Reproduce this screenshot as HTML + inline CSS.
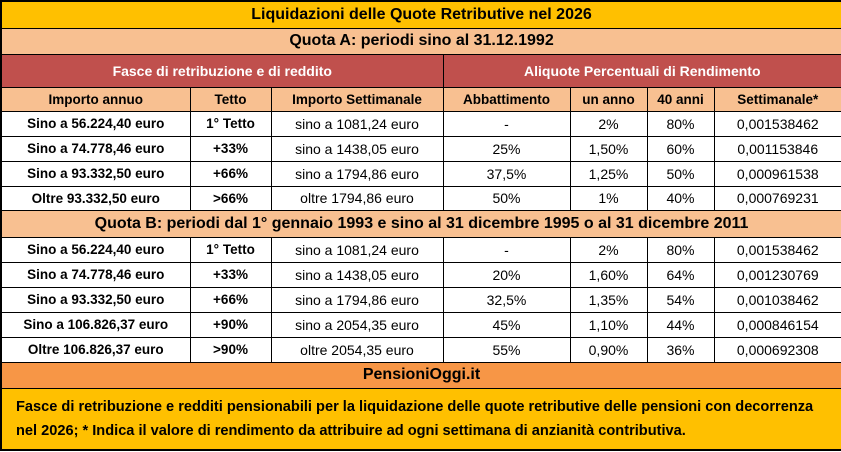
<!DOCTYPE html><html><head><style>
body{margin:0;width:841px;height:452px;background:#fff;font-family:"Liberation Sans",sans-serif;}
table{position:absolute;left:0;top:0;width:841px;border-collapse:collapse;table-layout:fixed;border:2px solid #000;}
td{border:1px solid #000;text-align:center;font-size:14px;padding:0;white-space:nowrap;overflow:hidden;}
.t{background:#FFC000;font-weight:bold;font-size:16px;}
.q{background:#F8C091;font-weight:bold;font-size:16px;}
.r{background:#C0504D;color:#fff;font-weight:bold;font-size:14px;}
.s{background:#F8C091;font-weight:bold;font-size:13.5px;}
.b{font-weight:bold;font-size:13.5px;}
.p{background:#F79646;font-weight:bold;font-size:16px;}
.f{background:#FFC000;font-weight:bold;font-size:14.6px;line-height:24px;}
</style></head><body>
<table>
<colgroup><col style="width:189px"><col style="width:81px"><col style="width:172px"><col style="width:127px"><col style="width:77px"><col style="width:67px"><col style="width:128px"></colgroup>
<tr style="height:27px"><td colspan="7" class="t">Liquidazioni delle Quote Retributive nel 2026</td></tr>
<tr style="height:26px"><td colspan="7" class="q">Quota A: periodi sino al 31.12.1992</td></tr>
<tr style="height:33px"><td colspan="3" class="r">Fasce di retribuzione e di reddito</td><td colspan="4" class="r">Aliquote Percentuali di Rendimento</td></tr>
<tr style="height:24px"><td class="s">Importo annuo</td><td class="s">Tetto</td><td class="s">Importo Settimanale</td><td class="s">Abbattimento</td><td class="s">un anno</td><td class="s">40 anni</td><td class="s">Settimanale*</td></tr>
<tr style="height:25px"><td class="b">Sino a 56.224,40 euro</td><td class="b">1° Tetto</td><td>sino a 1081,24 euro</td><td>-</td><td>2%</td><td>80%</td><td>0,001538462</td></tr>
<tr style="height:25px"><td class="b">Sino a 74.778,46 euro</td><td class="b">+33%</td><td>sino a 1438,05 euro</td><td>25%</td><td>1,50%</td><td>60%</td><td>0,001153846</td></tr>
<tr style="height:25px"><td class="b">Sino a 93.332,50 euro</td><td class="b">+66%</td><td>sino a 1794,86 euro</td><td>37,5%</td><td>1,25%</td><td>50%</td><td>0,000961538</td></tr>
<tr style="height:24px"><td class="b">Oltre 93.332,50 euro</td><td class="b">&gt;66%</td><td>oltre 1794,86 euro</td><td>50%</td><td>1%</td><td>40%</td><td>0,000769231</td></tr>
<tr style="height:27px"><td colspan="7" class="q">Quota B: periodi dal 1° gennaio 1993 e sino al 31 dicembre 1995 o al 31 dicembre 2011</td></tr>
<tr style="height:25px"><td class="b">Sino a 56.224,40 euro</td><td class="b">1° Tetto</td><td>sino a 1081,24 euro</td><td>-</td><td>2%</td><td>80%</td><td>0,001538462</td></tr>
<tr style="height:25px"><td class="b">Sino a 74.778,46 euro</td><td class="b">+33%</td><td>sino a 1438,05 euro</td><td>20%</td><td>1,60%</td><td>64%</td><td>0,001230769</td></tr>
<tr style="height:25px"><td class="b">Sino a 93.332,50 euro</td><td class="b">+66%</td><td>sino a 1794,86 euro</td><td>32,5%</td><td>1,35%</td><td>54%</td><td>0,001038462</td></tr>
<tr style="height:25px"><td class="b">Sino a 106.826,37 euro</td><td class="b">+90%</td><td>sino a 2054,35 euro</td><td>45%</td><td>1,10%</td><td>44%</td><td>0,000846154</td></tr>
<tr style="height:25px"><td class="b">Oltre 106.826,37 euro</td><td class="b">&gt;90%</td><td>oltre 2054,35 euro</td><td>55%</td><td>0,90%</td><td>36%</td><td>0,000692308</td></tr>
<tr style="height:26px"><td colspan="7" class="p">PensioniOggi.it</td></tr>
<tr style="height:62px"><td colspan="7" class="f" style="text-align:left;padding:0 8px 0 14px;">Fasce di retribuzione e redditi pensionabili per la liquidazione delle quote retributive delle pensioni con decorrenza<br>nel 2026; * Indica il valore di rendimento da attribuire ad ogni settimana di anzianità contributiva.</td></tr>
</table>
</body></html>
